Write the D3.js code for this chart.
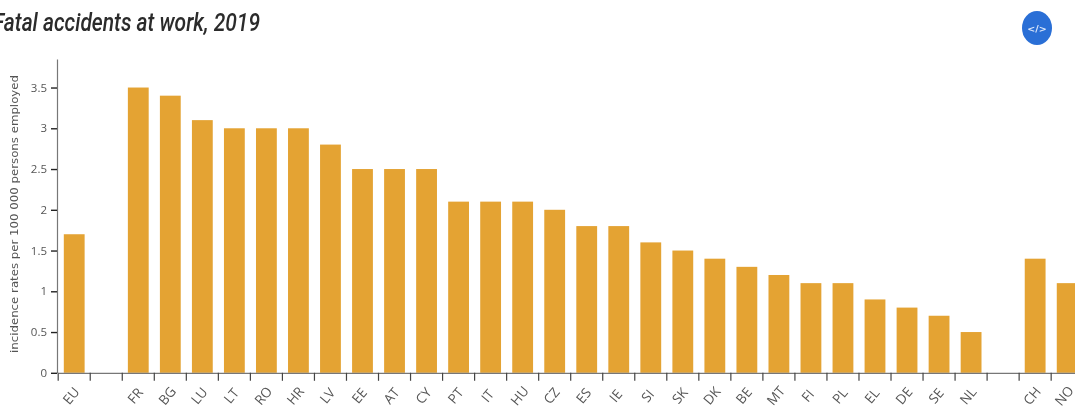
<!DOCTYPE html>
<html>
<head>
<meta charset="utf-8">
<script src="https://cdn.jsdelivr.net/npm/d3@7"></script>
<style>
  html, body { margin: 0; padding: 0; background: #fff; overflow: hidden; }
  #chart { filter: blur(0.5px); }
</style>
</head>
<body>
<div id="chart"></div>
<script>
// blank slots keep the gaps between EU, the member states and CH/NO
var categories = ["EU", " ", "FR", "BG", "LU", "LT", "RO", "HR", "LV", "EE", "AT", "CY", "PT", "IT", "HU", "CZ",
                  "ES", "IE", "SI", "SK", "DK", "BE", "MT", "FI", "PL", "EL", "DE", "SE", "NL", "  ", "CH", "NO"];
var values = [1.7, null, 3.5, 3.4, 3.1, 3, 3, 3, 2.8, 2.5, 2.5, 2.5, 2.1, 2.1, 2.1, 2,
              1.8, 1.8, 1.6, 1.5, 1.4, 1.3, 1.2, 1.1, 1.1, 0.9, 0.8, 0.7, 0.5, null, 1.4, 1.1];
var yTicks = [0, 0.5, 1, 1.5, 2, 2.5, 3, 3.5];
var titleText = "Fatal accidents at work, 2019";
var yLabel = "incidence rates per 100 000 persons employed";

var width = 1075, height = 410;

var svg = d3.select("#chart").append("svg")
  .attr("width", width)
  .attr("height", height)
  .style("display", "block");

var x = d3.scaleBand()
  .domain(categories)
  .range([58.2, 1083.2])
  .paddingInner(0.35)
  .paddingOuter(0.175);

var y = d3.scaleLinear()
  .domain([0, 3.85])
  .range([372.8, 59]);

svg.selectAll("rect.bar")
  .data(categories.map(function(c, i) { return {key: c, value: values[i]}; }).filter(function(d) { return d.value != null; }))
  .enter().append("rect")
  .attr("class", "bar")
  .attr("x", function(d) { return x(d.key); })
  .attr("y", function(d) { return y(d.value); })
  .attr("width", x.bandwidth())
  .attr("height", function(d) { return y(0) - y(d.value); })
  .attr("fill", "#e4a333");

// y axis
var yAxis = svg.append("g")
  .attr("transform", "translate(57,0)")
  .call(d3.axisLeft(y).tickValues(yTicks).tickFormat(d3.format("~g")).tickSize(6).tickSizeOuter(0));
yAxis.select(".domain").attr("stroke", "#777").attr("stroke-width", 1.2);
yAxis.selectAll(".tick line").attr("stroke", "#222").attr("stroke-width", 1.4);
yAxis.selectAll(".tick text")
  .attr("x", -10)
  .attr("fill", "#555")
  .style("font", "11.5px 'Open Sans', sans-serif");

// x axis, ticks sit on the band edges rather than the centres
var step = x.step();
var xAxis = svg.append("g")
  .attr("transform", "translate(0,372.8)")
  .call(d3.axisBottom(x).tickSize(8).tickSizeOuter(0));
xAxis.select(".domain").attr("stroke", "#777").attr("stroke-width", 1.2);
xAxis.selectAll(".tick line")
  .attr("transform", "translate(" + (-step / 2) + ",0)")
  .attr("stroke", "#444")
  .attr("stroke-width", 1.2);
xAxis.selectAll(".tick text")
  .attr("fill", "#555")
  .attr("text-anchor", "middle")
  .attr("y", null)
  .attr("dy", "0.35em")
  .attr("transform", "translate(-3,23) rotate(-50)")
  .style("font", "13.5px 'Open Sans', sans-serif");

svg.append("text")
  .attr("transform", "translate(18,214) rotate(-90)")
  .attr("text-anchor", "middle")
  .attr("textLength", 278)
  .attr("lengthAdjust", "spacingAndGlyphs")
  .attr("fill", "#555")
  .style("font", "10.5px 'DejaVu Sans', sans-serif")
  .text(yLabel);

svg.append("text")
  .attr("x", -7)
  .attr("y", 31)
  .attr("textLength", 267)
  .attr("lengthAdjust", "spacingAndGlyphs")
  .attr("fill", "#2b2b2b")
  .style("font", "italic 500 25px Roboto, sans-serif")
  .text(titleText);

// embed button
svg.append("ellipse")
  .attr("cx", 1037)
  .attr("cy", 28)
  .attr("rx", 15)
  .attr("ry", 17)
  .attr("fill", "#2a6fd6");
svg.append("text")
  .attr("x", 1037)
  .attr("y", 32)
  .attr("text-anchor", "middle")
  .attr("fill", "#dfe9fa")
  .style("font", "bold 9.5px 'DejaVu Sans', sans-serif")
  .text("</>");
</script>
</body>
</html>
